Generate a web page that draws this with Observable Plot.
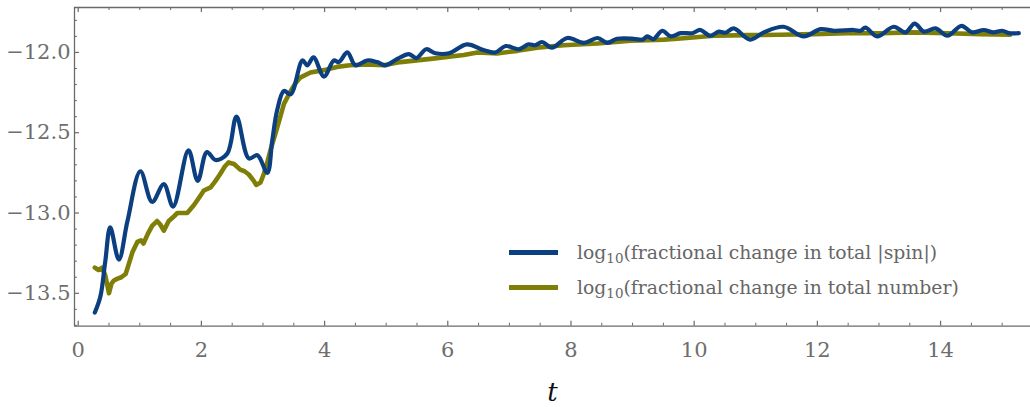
<!DOCTYPE html>
<html>
<head>
<meta charset="utf-8">
<script src="https://cdn.jsdelivr.net/npm/d3@7"></script>
<script src="https://cdn.jsdelivr.net/npm/@observablehq/plot@0.6"></script>
<style>
  html, body { margin: 0; padding: 0; background: #fff; overflow: hidden; }
  #wrap { position: relative; width: 1030px; height: 407px; }
  #legend { position: absolute; left: 509px; top: 235px; font-family: "DejaVu Serif", "Liberation Serif", serif; font-size: 18.8px; color: #666; }
  #legend .row { display: flex; align-items: center; height: 35px; }
  #legend .sw { width: 49px; height: 5px; margin-right: 19px; }
  #legend sub { font-size: 13.5px; vertical-align: -4px; line-height: 0; }
</style>
</head>
<body>
<div id="wrap"><div id="legend"></div></div>
<script>
// ---- data ----
const spinT = [0.27,0.36,0.44,0.52,0.66,0.80,1.01,1.20,1.39,1.54,1.79,1.94,2.09,2.23,2.42,2.57,2.77,2.91,3.07,3.15,3.23,3.34,3.45,3.64,3.72,3.82,3.99,4.15,4.23,4.37,4.50,4.69,4.85,4.99,5.18,5.37,5.49,5.65,5.80,6.02,6.31,6.58,6.77,6.94,7.15,7.31,7.42,7.53,7.69,7.94,8.21,8.43,8.59,8.75,9.02,9.16,9.24,9.34,9.48,9.62,9.78,9.97,10.10,10.26,10.40,10.51,10.64,10.91,11.13,11.45,11.78,12.05,12.27,12.59,12.70,12.78,12.97,13.24,13.43,13.58,13.73,13.92,14.11,14.34,14.51,14.70,14.86,15.00,15.11,15.27];
const spinV = [-13.62,-13.52,-13.30,-13.09,-13.29,-13.05,-12.74,-12.93,-12.82,-12.96,-12.61,-12.80,-12.62,-12.67,-12.63,-12.40,-12.66,-12.64,-12.75,-12.55,-12.36,-12.24,-12.26,-12.05,-12.08,-12.03,-12.15,-12.05,-12.06,-12.00,-12.08,-12.05,-12.06,-12.08,-12.04,-12.01,-12.035,-11.98,-12.005,-12.005,-11.95,-11.985,-12.00,-11.96,-11.98,-11.95,-11.955,-11.935,-11.97,-11.91,-11.94,-11.91,-11.94,-11.915,-11.915,-11.92,-11.90,-11.917,-11.865,-11.90,-11.88,-11.88,-11.86,-11.896,-11.87,-11.877,-11.85,-11.92,-11.875,-11.84,-11.90,-11.855,-11.865,-11.86,-11.865,-11.845,-11.90,-11.84,-11.875,-11.82,-11.87,-11.85,-11.896,-11.834,-11.875,-11.86,-11.875,-11.865,-11.88,-11.88];

const numT = [0.27,0.33,0.39,0.44,0.50,0.54,0.58,0.63,0.70,0.77,0.82,0.88,0.96,1.02,1.06,1.13,1.20,1.28,1.33,1.39,1.47,1.53,1.61,1.70,1.77,1.88,1.97,2.04,2.15,2.23,2.30,2.38,2.44,2.53,2.63,2.70,2.77,2.85,2.89,2.96,3.01,3.06,3.12,3.23,3.34,3.45,3.53,3.61,3.77,3.99,4.20,4.41,4.69,4.96,5.23,5.72,6.26,6.48,6.80,7.13,7.45,7.88,8.43,8.97,9.51,9.78,10.32,10.86,11.40,11.94,12.48,13.02,13.56,14.11,14.65,15.13];
const numV = [-13.34,-13.355,-13.34,-13.39,-13.50,-13.44,-13.42,-13.41,-13.40,-13.38,-13.32,-13.245,-13.18,-13.17,-13.19,-13.13,-13.08,-13.05,-13.07,-13.11,-13.05,-13.03,-13.00,-13.00,-13.00,-12.95,-12.90,-12.86,-12.84,-12.80,-12.76,-12.71,-12.685,-12.695,-12.73,-12.74,-12.76,-12.80,-12.825,-12.81,-12.76,-12.70,-12.61,-12.47,-12.32,-12.24,-12.19,-12.155,-12.125,-12.11,-12.09,-12.08,-12.075,-12.08,-12.06,-12.04,-12.016,-12.00,-12.006,-11.99,-11.97,-11.955,-11.944,-11.927,-11.92,-11.913,-11.896,-11.892,-11.89,-11.886,-11.88,-11.88,-11.875,-11.88,-11.886,-11.89];

const xMajor = [0,2,4,6,8,10,12,14];
const xMinor = [0.5,1,1.5,2.5,3,3.5,4.5,5,5.5,6.5,7,7.5,8.5,9,9.5,10.5,11,11.5,12.5,13,13.5,14.5,15];
const yMajor = [-13.5,-13.0,-12.5,-12.0];
const yMinor = [-13.7,-13.6,-13.4,-13.3,-13.2,-13.1,-12.9,-12.8,-12.7,-12.6,-12.4,-12.3,-12.2,-12.1,-11.9,-11.8];
const seriesNames = ["(fractional change in total |spin|)", "(fractional change in total number)"];
const seriesColors = ["#0c3f80", "#7f7f08"];
const xLabel = "t";

// ---- layout ----
const W = 1030, H = 407, mt = 7, mb = 81.3, ml = 74, mr = 0;
const plotW = W - ml - mr, plotH = H - mt - mb;
const xDom = [-0.06, 15.46], yDom = [-13.705, -11.72];
const axisColor = "#6a6a6a";
const serif = "'DejaVu Serif', 'Liberation Serif', serif";

const spin = spinT.map((t, i) => ({t, v: spinV[i]}));
const num = numT.map((t, i) => ({t, v: numV[i]}));

const chart = Plot.plot({
  width: W, height: H,
  marginTop: mt, marginBottom: mb, marginLeft: ml, marginRight: mr,
  x: {domain: xDom},
  y: {domain: yDom},
  style: {fontFamily: serif, background: "transparent", overflow: "visible"},
  marks: [
    Plot.line(num, {x: "t", y: "v", stroke: seriesColors[1], strokeWidth: 4.6, strokeLinejoin: "round"}),
    Plot.line(spin, {x: "t", y: "v", stroke: seriesColors[0], strokeWidth: 4.2, curve: "catmull-rom"}),
    Plot.ruleY([yDom[0], yDom[1]], {stroke: axisColor, strokeWidth: 1.3}),
    Plot.ruleX([xDom[0]], {stroke: axisColor, strokeWidth: 1.3}),
    Plot.tickX(xMajor, {x: d => d, insetTop: plotH - 5, stroke: axisColor, strokeWidth: 1.2}),
    Plot.tickX(xMinor, {x: d => d, insetTop: plotH - 3, stroke: axisColor, strokeWidth: 1}),
    Plot.tickX(xMajor, {x: d => d, insetBottom: plotH - 5, stroke: axisColor, strokeWidth: 1.2}),
    Plot.tickX(xMinor, {x: d => d, insetBottom: plotH - 3, stroke: axisColor, strokeWidth: 1}),
    Plot.tickY(yMajor, {y: d => d, insetRight: plotW - 5, stroke: axisColor, strokeWidth: 1.2}),
    Plot.tickY(yMinor, {y: d => d, insetRight: plotW - 3, stroke: axisColor, strokeWidth: 1}),
    Plot.axisX(xMajor, {tickSize: 0, tickPadding: 16, fontSize: 21, fill: "#6e6e6e", label: null}),
    Plot.axisY(yMajor, {tickSize: 0, tickPadding: 4, fontSize: 21, fill: "#6e6e6e", tickFormat: d3.format(".1f"), label: null}),
    Plot.text([xLabel], {frameAnchor: "bottom", dy: 75, fontSize: 26, fontStyle: "italic", fill: "#111"})
  ]
});
const wrap = document.getElementById("wrap");
wrap.insertBefore(chart, wrap.firstChild);

const legend = document.getElementById("legend");
seriesNames.forEach((name, i) => {
  const row = document.createElement("div");
  row.className = "row";
  const sw = document.createElement("span");
  sw.className = "sw";
  sw.style.background = seriesColors[i];
  const label = document.createElement("span");
  label.append("log");
  const sub = document.createElement("sub");
  sub.textContent = "10";
  label.append(sub);
  label.append(name);
  row.append(sw, label);
  legend.append(row);
});
</script>
</body>
</html>
